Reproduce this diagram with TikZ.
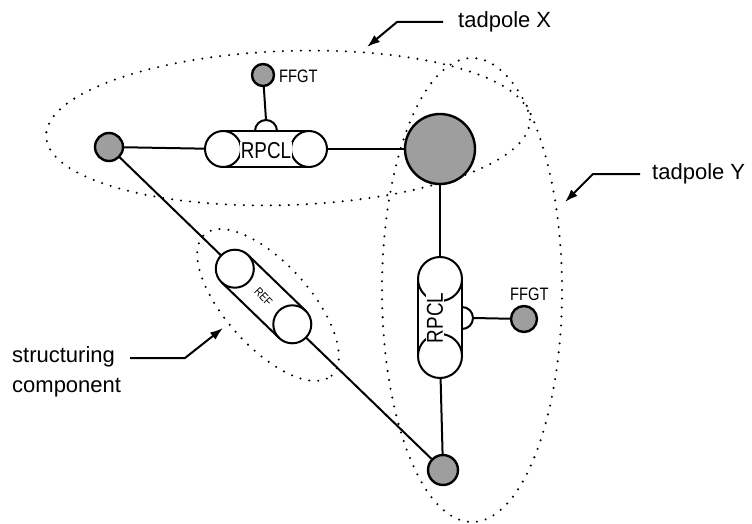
\documentclass[tikz,border=0pt]{standalone}
\usepackage{fontspec}
\setmainfont{Liberation Sans}
\newfontfamily\narrowfont[FakeStretch=0.82]{Liberation Sans}
\usetikzlibrary{arrows.meta}
\begin{document}
\begin{tikzpicture}[x=1pt,y=-1pt,
  conn/.style={line width=2pt},
  ball/.style={circle,draw,line width=2.4pt,fill=black!38,inner sep=0pt},
  ringline/.style={line width=2pt,fill=white},
  dots/.style={line width=2.3pt,dash pattern=on 0pt off 9pt,line cap=round},
  lab/.style={font=\fontsize{22}{30}\selectfont,anchor=west,inner sep=0pt},
  small/.style={font=\narrowfont\fontsize{18}{18}\selectfont,inner sep=0pt},
  rpcl/.style={font=\narrowfont\fontsize{23}{23}\selectfont,inner sep=0.5pt,fill=white},
  pointer/.style={line width=2pt,-{Latex[length=13pt,width=9pt]}}
]
\useasboundingbox (0,0) rectangle (752,524);
% dotted groupings
\draw[dots,rotate around={2:(288,128)}] (288,128) ellipse[x radius=242pt,y radius=77pt];
\draw[dots] (472,290) ellipse[x radius=90pt,y radius=232pt];
\draw[dots,rotate around={-48:(268,305)}] (268,305) ellipse[x radius=95pt,y radius=42pt];
% positions of capsule ends and knobs
\coordinate (h1) at (223,149);
\coordinate (h2) at (309,149);
\coordinate (hk) at (266,131);
\coordinate (hkt) at (266,120);
\coordinate (v1) at (440,279);
\coordinate (v2) at (440,356);
\coordinate (vk) at (462,318);
\coordinate (vkt) at (473,318);
\coordinate (r1) at (234.8,268.7);
\coordinate (r2) at (292.3,324.3);
% shaded balls
\node[ball,minimum size=28pt] (L) at (109,147) {};
\node[ball,minimum size=70pt] (B) at (440,149) {};
\node[ball,minimum size=30pt] (D) at (443,470) {};
\node[ball,minimum size=22pt] (F1) at (263,75) {};
\node[ball,minimum size=26pt] (F2) at (524,319) {};
\node[small,anchor=west] (F1t) at (279,76) {FFGT};
\node[small,anchor=west] (F2t) at (510,294) {FFGT};
% connectors (drawn first, capsules cover their inner ends)
\draw[conn] (L) -- (h1);
\draw[conn] (h2) -- (B);
\draw[conn] (B) -- (v1);
\draw[conn] (v2) -- (D);
\draw[conn] (L) -- (r1);
\draw[conn] (r2) -- (D);
\draw[conn] (hkt) -- (F1);
\draw[conn] (vkt) -- (F2);
% horizontal RPCL
\draw[conn] (hk) ++(-11pt,0) arc[start angle=180,end angle=0,radius=11pt];
\draw[ringline] (h1) circle[radius=18pt];
\draw[ringline] (h2) circle[radius=18pt];
\draw[conn] ([yshift=18pt]h1) -- ([yshift=18pt]h2);
\draw[conn] ([yshift=-18pt]h1) -- ([yshift=-18pt]h2);
\node[rpcl] (ht) at (266,151) {RPCL};
% vertical RPCL
\draw[conn] (vk) ++(0,-11pt) arc[start angle=-90,end angle=90,radius=11pt];
\draw[ringline] (v1) circle[radius=22pt];
\draw[ringline] (v2) circle[radius=22pt];
\draw[conn] ([xshift=22pt]v1) -- ([xshift=22pt]v2);
\draw[conn] ([xshift=-22pt]v1) -- ([xshift=-22pt]v2);
\node[rpcl,rotate=90] (vt) at (435,318) {RPCL};
% REF
\draw[ringline] (r1) circle[radius=19pt];
\draw[ringline] (r2) circle[radius=19pt];
\draw[conn] ([shift={(46:19pt)}]r1) -- ([shift={(46:19pt)}]r2);
\draw[conn] ([shift={(-134:19pt)}]r1) -- ([shift={(-134:19pt)}]r2);
\node[font=\narrowfont\fontsize{12}{12}\selectfont,inner sep=0pt,rotate=-46] (rt) at (263.5,296.5) {REF};
% labels
\node[lab] (tx) at (458,22) {tadpole X};
\coordinate (tx1) at (397,22);
\coordinate (tx2) at (367,47);
\draw[pointer] ([xshift=-15pt]tx.west) -- (tx1) -- (tx2);
\node[lab] (ty) at (652,174) {tadpole Y};
\coordinate (ty1) at (593,174);
\coordinate (ty2) at (565,202);
\draw[pointer] ([xshift=-12pt]ty.west) -- (ty1) -- (ty2);
\node[lab,align=left] (sc) at (12,372) {structuring\\component};
\coordinate (s0) at (130,358);
\coordinate (s1) at (185,358);
\coordinate (s2) at (223,328);
\draw[pointer] (s0) -- (s1) -- (s2);
\end{tikzpicture}
\end{document}
